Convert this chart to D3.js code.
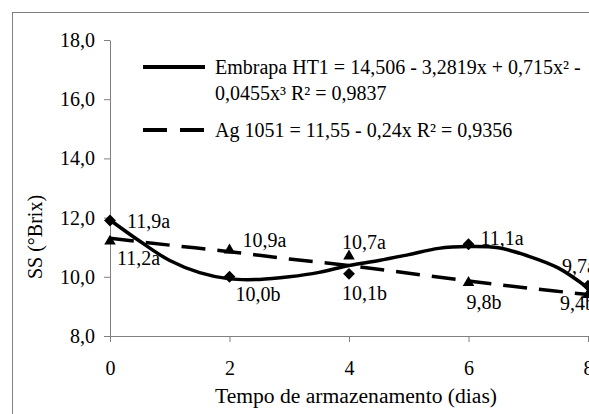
<!DOCTYPE html>
<html>
<head>
<meta charset="utf-8">
<script src="https://cdn.jsdelivr.net/npm/d3@7"></script>
<style>
  body { margin: 0; background: #fff; }
  svg { display: block; }
  text { font-family: "Liberation Serif", "Times New Roman", serif; fill: #000; }
</style>
</head>
<body>
<svg id="chart" width="589" height="414"></svg>
<script>
// storage days
const days = [0, 2, 4, 6, 8];
// measured SS (°Brix) and letters
const embrapaValues = [11.9, 10.0, 10.1, 11.1, 9.7];
const embrapaLabels = ['11,9a', '10,0b', '10,1b', '11,1a', '9,7a'];
const agValues = [11.2, 10.9, 10.7, 9.8, 9.4];
const agLabels = ['11,2a', '10,9a', '10,7a', '9,8b', '9,4b'];

// fitted curves
const embrapaFitX = [0, 0.5, 1, 1.5, 2, 2.5, 3, 3.5, 4, 4.5, 5, 5.5, 6, 6.5, 7, 7.5, 8];
const embrapaFitY = [11.92, 11.2, 10.55, 10.14, 9.93, 9.91, 10.0, 10.15, 10.38, 10.55, 10.75, 10.96, 11.02, 10.98, 10.7, 10.3, 9.62];
const agFitX = [0, 1, 2, 3, 4, 5, 6, 7, 8];
const agFitY = [11.3, 11.07, 10.85, 10.6, 10.38, 10.12, 9.86, 9.62, 9.4];

const yTicks = [8, 10, 12, 14, 16, 18];
const xTicks = [0, 2, 4, 6, 8];
const legendText = [
    ['Embrapa HT1 = 14,506 - 3,2819x + 0,715x² -', '0,0455x³ R² = 0,9837'],
    ['Ag 1051 = 11,55 - 0,24x R² = 0,9356']
];

const svg = d3.select('#chart');
const fs = 20;
const serif = '"Liberation Serif", "Times New Roman", serif';

const x = d3.scaleLinear().domain([0, 8]).range([110, 588]);
const y = d3.scaleLinear().domain([8, 18]).range([336, 40]);
const comma = v => d3.format('.1f')(v).replace('.', ',');

// outer frame
svg.append('rect')
    .attr('x', 12.5).attr('y', 12.5)
    .attr('width', 600).attr('height', 420)
    .attr('fill', 'none').attr('stroke', '#808080');

// axes
const yAxis = svg.append('g')
    .attr('transform', `translate(${x(0)},0)`)
    .call(d3.axisLeft(y).tickValues(yTicks).tickFormat(comma).tickSizeInner(6).tickSizeOuter(0).tickPadding(9));
const xAxis = svg.append('g')
    .attr('transform', `translate(0,${y(8)})`)
    .call(d3.axisBottom(x).tickValues(xTicks).tickSizeInner(6).tickSizeOuter(0).tickPadding(19));
[xAxis, yAxis].forEach(g => {
    g.attr('font-family', serif);
    g.selectAll('path, line').attr('stroke', '#808080');
    g.selectAll('text').style('font-family', serif).style('font-size', fs + 'px').attr('fill', '#000');
});

// axis titles
svg.append('text')
    .attr('x', 356).attr('y', 403)
    .attr('text-anchor', 'middle')
    .style('font-family', serif)
    .style('font-size', '21.6px')
    .text('Tempo de armazenamento (dias)');
svg.append('text')
    .attr('transform', 'translate(42,237) rotate(-90)')
    .attr('text-anchor', 'middle')
    .style('font-family', serif)
    .style('font-size', fs + 'px')
    .text('SS (°Brix)');

// fitted lines
const line = d3.line().x(d => x(d[0])).y(d => y(d[1])).curve(d3.curveCatmullRom);
svg.append('path')
    .datum(d3.zip(agFitX, agFitY))
    .attr('fill', 'none').attr('stroke', '#000')
    .attr('stroke-width', 3.5).attr('stroke-dasharray', '24,12')
    .attr('d', line);
svg.append('path')
    .datum(d3.zip(embrapaFitX, embrapaFitY))
    .attr('fill', 'none').attr('stroke', '#000')
    .attr('stroke-width', 3.5)
    .attr('d', line);

// markers
const diamond = d3.symbol().type(d3.symbolDiamond2).size(90);
const triangle = d3.symbol().type(d3.symbolTriangle2).size(95);
svg.append('g').selectAll('path')
    .data(d3.zip(days, embrapaValues))
    .join('path')
    .attr('transform', d => `translate(${x(d[0])},${y(d[1])})`)
    .attr('d', diamond).attr('fill', '#000');
svg.append('g').selectAll('path')
    .data(d3.zip(days, agValues))
    .join('path')
    .attr('transform', d => `translate(${x(d[0])},${y(d[1])})`)
    .attr('d', triangle).attr('fill', '#000');

// point labels
const embrapaLabelPos = [[17, 7], [6, 24], [-7, 26], [12, 1], [-26, -13]];
const agLabelPos = [[7, 24], [13, -3], [-7, -7], [-2, 26], [-28, 15]];
svg.append('g').selectAll('text')
    .data(days.map((d, i) => [d, embrapaValues[i], embrapaLabels[i], embrapaLabelPos[i]]))
    .join('text')
    .attr('x', d => x(d[0]) + d[3][0]).attr('y', d => y(d[1]) + d[3][1])
    .style('font-family', serif)
    .style('font-size', fs + 'px')
    .text(d => d[2]);
svg.append('g').selectAll('text')
    .data(days.map((d, i) => [d, agValues[i], agLabels[i], agLabelPos[i]]))
    .join('text')
    .attr('x', d => x(d[0]) + d[3][0]).attr('y', d => y(d[1]) + d[3][1])
    .style('font-family', serif)
    .style('font-size', fs + 'px')
    .text(d => d[2]);

// legend
const legend = svg.append('g');
legend.append('line')
    .attr('x1', 143).attr('x2', 205).attr('y1', 67).attr('y2', 67)
    .attr('stroke', '#000').attr('stroke-width', 4);
legend.append('line')
    .attr('x1', 143).attr('x2', 205).attr('y1', 130).attr('y2', 130)
    .attr('stroke', '#000').attr('stroke-width', 4).attr('stroke-dasharray', '24,13');
legend.selectAll('text')
    .data([[legendText[0][0], 74], [legendText[0][1], 100], [legendText[1][0], 137]])
    .join('text')
    .attr('x', 215).attr('y', d => d[1])
    .style('font-family', serif)
    .style('font-size', fs + 'px')
    .text(d => d[0]);
</script>
</body>
</html>
